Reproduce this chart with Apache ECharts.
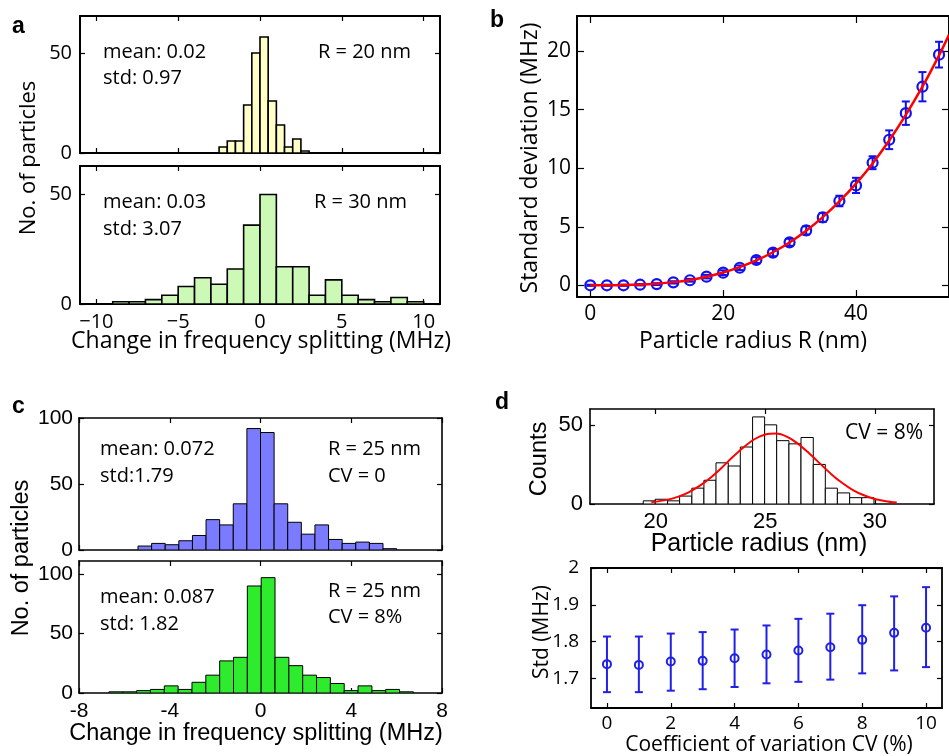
<!DOCTYPE html>
<html><head><meta charset="utf-8">
<script src="https://cdn.jsdelivr.net/npm/echarts@6/dist/echarts.min.js"></script>
<style>html,body{margin:0;padding:0;background:#fff}#main{width:949px;height:756px}</style>
</head><body><div id="main"></div>
<script>
// ---------- DATA ----------
// panel a (top): R = 20 nm
const aTopEdges = [-2.5,-2,-1.5,-1,-0.5,0,0.5,1,1.5,2,2.5,3];
const aTopCounts = [3,6,6,24,50,58,26,14,3,7,1];
// panel a (bottom): R = 30 nm
const aBotEdges = [-9,-8,-7,-6,-5,-4,-3,-2,-1,0,1,2,3,4,5,6,7,8,9,10];
const aBotCounts = [1,1,2,4,8,12,9,16,36,50,17,17,4,11,4,2,1,3,1];
const aTicksX = [-10,-5,0,5,10];
const aTicksY = [0,50];
// panel b
const bR = [0,2.5,5,7.5,10,12.5,15,17.5,20,22.5,25,27.5,30,32.5,35,37.5,40,42.5,45,47.5,50,52.5];
const bStd = [0,0,0,0.05,0.1,0.25,0.43,0.74,1.08,1.5,2.16,2.79,3.67,4.69,5.8,7.2,8.53,10.47,12.43,14.7,16.96,19.7];
const bErr = [0.05,0.05,0.05,0.06,0.08,0.1,0.12,0.15,0.2,0.2,0.25,0.3,0.3,0.35,0.38,0.45,0.65,0.55,0.8,1.0,1.25,1.1];
const bFitR = [0,2.5,5,7.5,10,12.5,15,17.5,20,22.5,25,27.5,30,32.5,35,37.5,40,42.5,45,47.5,50,52.5,54];
const bFitStd = [0,0,0.02,0.06,0.14,0.27,0.46,0.73,1.09,1.55,2.12,2.82,3.66,4.66,5.82,7.16,8.68,10.41,12.37,14.55,16.96,19.64,21.4];
const bTicksX = [0,20,40];
const bTicksY = [0,5,10,15,20];
// panel c (top): CV = 0
const cTopEdges = [-5.4,-4.8,-4.2,-3.6,-3.0,-2.4,-1.8,-1.2,-0.6,0,0.6,1.2,1.8,2.4,3.0,3.6,4.2,4.8,5.4,6.0];
const cTopCounts = [3,5,4,7,11,23,19,35,92,89,35,21,12,19,8,5,6,5,1];
// panel c (bottom): CV = 8%
const cBotEdges = [-6.68,-6.07,-5.46,-4.85,-4.24,-3.63,-3.02,-2.41,-1.80,-1.19,-0.58,0.03,0.64,1.25,1.86,2.47,3.08,3.69,4.30,4.91,5.52,6.13,6.74];
const cBotCounts = [1,1,2,3,6,3,9,15,27,30,90,97,30,23,15,13,8,2,6,2,3,1];
const cTicksX = [-8,-4,0,4,8];
const cTopTicksY = [0,50,100];
const cBotTicksY = [0,50,100];
// panel d (top): particle radius histogram
const dEdges = [19.43,19.98,20.54,21.09,21.65,22.20,22.75,23.31,23.86,24.42,24.97,25.52,26.08,26.63,27.19,27.74,28.29,28.85,29.40,29.96];
const dCounts = [2,3,2,5,10,15,26,24,36,55,50,40,38,42,25,10,7,4,4];
const dFitX = [19.8,20.5,21,21.5,22,22.5,23,23.5,24,24.5,25,25.5,26,26.5,27,27.5,28,28.5,29,29.5,30,30.5,31];
const dFitY = [1.1,2.6,4.5,7.4,11.4,16.6,22.8,29.5,35.7,40.9,43.9,44.5,42.4,38,32,25.5,19,13.4,8.8,5.5,3.2,1.8,0.9];
const dTicksX = [20,25,30];
const dTicksY = [0,50];
// panel d (bottom)
const cvPct = [0,1,2,3,4,5,6,7,8,9,10];
const cvStd = [1.739,1.737,1.746,1.748,1.755,1.765,1.776,1.785,1.805,1.824,1.838];
const cvLow = [1.663,1.663,1.667,1.671,1.677,1.687,1.691,1.697,1.714,1.722,1.731];
const cvHigh = [1.814,1.814,1.822,1.826,1.833,1.844,1.862,1.876,1.899,1.923,1.948];
const cvTicksX = [0,2,4,6,8,10];
const cvTicksY = [1.7,1.8,1.9,2];

// ---------- BUILD ----------
const MY = "'Open Sans', 'Noto Sans', sans-serif";
const AR = "'Liberation Sans', Arial, sans-serif";
const grid = [], xAxis = [], yAxis = [], series = [];
const minusFmt = v => (v < 0 ? '\u2212' + Math.abs(v) : String(v));

function panel(p) {
  const gi = grid.length;
  grid.push({left: p.box[0], top: p.box[1], width: p.box[2], height: p.box[3], containLabel: false});
  const line = {show: true, onZero: false, lineStyle: {color: '#000', width: p.lw || 2}};
  const tick = vals => ({show: true, inside: true, length: p.tl || 5, customValues: vals, lineStyle: {color: '#000', width: 1.2}});
  xAxis.push({type: 'value', gridIndex: gi, min: p.xr[0], max: p.xr[1], position: 'bottom',
    axisLine: line, axisTick: tick(p.xt), splitLine: {show: false},
    axisLabel: {show: true, customValues: p.xt, formatter: p.xf || String, color: '#000', fontFamily: p.tf, fontSize: p.tfs, margin: p.xm}});
  xAxis.push({type: 'value', gridIndex: gi, min: p.xr[0], max: p.xr[1], position: 'top',
    axisLine: line, axisTick: tick(p.xt), splitLine: {show: false}, axisLabel: {show: false}});
  yAxis.push({type: 'value', gridIndex: gi, min: p.yr[0], max: p.yr[1], position: 'left',
    axisLine: line, axisTick: tick(p.yt), splitLine: {show: false},
    axisLabel: {show: true, customValues: p.yt, formatter: p.yf || String, color: '#000', fontFamily: p.tf, fontSize: p.tfs, margin: p.ym}});
  yAxis.push({type: 'value', gridIndex: gi, min: p.yr[0], max: p.yr[1], position: 'right',
    axisLine: line, axisTick: tick(p.yt), splitLine: {show: false}, axisLabel: {show: false}});
  return gi;
}

function hist(gi, edges, counts, fill, lw) {
  series.push({
    type: 'custom', xAxisIndex: 2 * gi, yAxisIndex: 2 * gi,
    data: counts.map((c, i) => [edges[i], edges[i + 1], c]),
    encode: {x: [0, 1], y: 2}, clip: true,
    renderItem: (params, api) => {
      const a = api.coord([api.value(0), api.value(2)]);
      const b = api.coord([api.value(1), 0]);
      return {type: 'rect', shape: {x: a[0], y: a[1], width: b[0] - a[0], height: b[1] - a[1]},
        style: {fill: fill, stroke: '#000', lineWidth: lw}};
    }
  });
}

function errbars(gi, xs, lo, hi, color, cap, lw) {
  series.push({
    type: 'custom', xAxisIndex: 2 * gi, yAxisIndex: 2 * gi, z: 3,
    data: xs.map((x, i) => [x, lo[i], hi[i]]),
    encode: {x: 0, y: [1, 2]}, clip: false,
    renderItem: (params, api) => {
      const l = api.coord([api.value(0), api.value(1)]);
      const h = api.coord([api.value(0), api.value(2)]);
      const st = {stroke: color, lineWidth: lw};
      return {type: 'group', children: [
        {type: 'line', shape: {x1: l[0], y1: l[1], x2: h[0], y2: h[1]}, style: st},
        {type: 'line', shape: {x1: l[0] - cap, y1: l[1], x2: l[0] + cap, y2: l[1]}, style: st},
        {type: 'line', shape: {x1: h[0] - cap, y1: h[1], x2: h[0] + cap, y2: h[1]}, style: st}
      ]};
    }
  });
}

// panel a top
const gA1 = panel({box: [80, 16, 360, 137], xr: [-11, 11], yr: [0, 68.5], xt: aTicksX, yt: aTicksY,
  tf: MY, tfs: 20, xm: 8, ym: 8, xf: minusFmt});
xAxis[2 * gA1].axisLabel.show = false;
hist(gA1, aTopEdges, aTopCounts, '#FFFFC6', 1.6);
// panel a bottom
const gA2 = panel({box: [80, 166, 360, 138], xr: [-11, 11], yr: [0, 63], xt: aTicksX, yt: aTicksY,
  tf: MY, tfs: 20, xm: 8, ym: 8, xf: minusFmt});
hist(gA2, aBotEdges, aBotCounts, '#CCF9B5', 1.6);

// panel b
const BLUE = '#1010F0';
const gB = panel({box: [577, 16, 377, 281], xr: [-2, 54], yr: [-1, 23], xt: bTicksX, yt: bTicksY,
  tf: MY, tfs: 21, xm: 7, ym: 6, tl: 7});
errbars(gB, bR, bStd.map((v, i) => v - bErr[i]), bStd.map((v, i) => v + bErr[i]), BLUE, 4, 2);
series.push({type: 'scatter', xAxisIndex: 2 * gB, yAxisIndex: 2 * gB, z: 4,
  data: bR.map((r, i) => [r, bStd[i]]), symbol: 'circle', symbolSize: 10,
  itemStyle: {color: 'rgba(255,255,255,0)', borderColor: BLUE, borderWidth: 2.2, opacity: 1}});
series.push({type: 'line', xAxisIndex: 2 * gB, yAxisIndex: 2 * gB, z: 5, smooth: 0.3,
  data: bFitR.map((r, i) => [r, bFitStd[i]]), showSymbol: false,
  lineStyle: {color: '#FF0000', width: 2.5}});

// panel c top
const gC1 = panel({box: [79, 418, 363, 132], xr: [-8, 8], yr: [0, 100], xt: cTicksX, yt: cTopTicksY,
  tf: AR, tfs: 21, xm: 8, ym: 6, lw: 1.6});
xAxis[2 * gC1].axisLabel.show = false;
hist(gC1, cTopEdges, cTopCounts, '#7B7BFF', 1);
// panel c bottom
const gC2 = panel({box: [79, 561, 363, 132], xr: [-8, 8], yr: [0, 111], xt: cTicksX, yt: cBotTicksY,
  tf: AR, tfs: 21, xm: 8, ym: 6, lw: 1.6});
hist(gC2, cBotEdges, cBotCounts, '#2EEB2E', 1);

// panel d top
const gD1 = panel({box: [590, 409, 344, 95], xr: [17, 32.7], yr: [0, 60], xt: dTicksX, yt: dTicksY,
  tf: AR, tfs: 22, xm: 7, ym: 7, lw: 1.6});
hist(gD1, dEdges, dCounts, '#FFFFFF', 1);
series.push({type: 'line', xAxisIndex: 2 * gD1, yAxisIndex: 2 * gD1, z: 5, smooth: 0.3,
  data: dFitX.map((x, i) => [x, dFitY[i]]), showSymbol: false,
  lineStyle: {color: '#FF0000', width: 2}});

// panel d bottom
const BLUE2 = '#2020E6';
const gD2 = panel({box: [591, 568, 351, 140], xr: [-0.5, 10.5], yr: [1.62, 2], xt: cvTicksX, yt: cvTicksY,
  tf: MY, tfs: 19, xm: 6, ym: 12, lw: 1.8});
errbars(gD2, cvPct, cvLow, cvHigh, BLUE2, 4, 2);
series.push({type: 'scatter', xAxisIndex: 2 * gD2, yAxisIndex: 2 * gD2, z: 4,
  data: cvPct.map((x, i) => [x, cvStd[i]]), symbol: 'circle', symbolSize: 8,
  itemStyle: {color: 'rgba(255,255,255,0)', borderColor: BLUE2, borderWidth: 2, opacity: 1}});

// ---------- TEXT ----------
function txt(t, x, y, o) {
  o = o || {};
  return {type: 'text', x: x, y: y, rotation: o.rot || 0, z: 10,
    style: {text: t, fill: '#000', font: (o.bold ? 'bold ' : '') + (o.size || 20) + 'px ' + (o.font || MY),
      align: o.align || 'left', verticalAlign: o.va || 'middle'}};
}
const R90 = Math.PI / 2;
const graphic = [
  txt('a', 12, 27, {bold: true, font: AR, size: 23}),
  txt('b', 490, 21, {bold: true, font: AR, size: 23}),
  txt('c', 12, 407, {bold: true, font: AR, size: 23}),
  txt('d', 495, 403, {bold: true, font: AR, size: 23}),
  // a
  txt('No. of particles', 29, 158, {rot: R90, align: 'center', size: 22}),
  txt('mean: 0.02', 103, 52), txt('std: 0.97', 103, 78), txt('R = 20 nm', 411, 52, {align: 'right'}),
  txt('mean: 0.03', 103, 202), txt('std: 3.07', 103, 229), txt('R = 30 nm', 407, 202, {align: 'right'}),
  txt('Change in frequency splitting (MHz)', 261, 341, {align: 'center', size: 23}),
  // b
  txt('Standard deviation (MHz)', 530, 158, {rot: R90, align: 'center', size: 23}),
  txt('Particle radius R (nm)', 753, 341, {align: 'center', size: 23}),
  // c
  txt('No. of particles', 22, 558, {rot: R90, align: 'center', size: 23.5, font: AR}),
  txt('mean: 0.072', 100, 449), txt('std:1.79', 100, 476),
  txt('R = 25 nm', 328, 449), txt('CV = 0', 328, 476),
  txt('mean: 0.087', 100, 597), txt('std: 1.82', 100, 624),
  txt('R = 25 nm', 328, 591), txt('CV = 8%', 328, 617),
  txt('Change in frequency splitting (MHz)', 256, 734, {align: 'center', size: 23.5, font: AR}),
  // d
  txt('Counts', 540, 459, {rot: R90, align: 'center', size: 23.5, font: AR}),
  txt('Particle radius (nm)', 759, 544, {align: 'center', size: 25, font: AR}),
  txt('CV = 8%', 923, 433, {align: 'right', size: 21}),
  txt('Std (MHz)', 542, 632, {rot: R90, align: 'center', size: 21}),
  txt('Coefficient of variation CV (%)', 769, 745, {align: 'center', size: 21})
];

const chart = echarts.init(document.getElementById('main'));
chart.setOption({animation: false, backgroundColor: '#fff', grid, xAxis, yAxis, series, graphic});
</script></body></html>
